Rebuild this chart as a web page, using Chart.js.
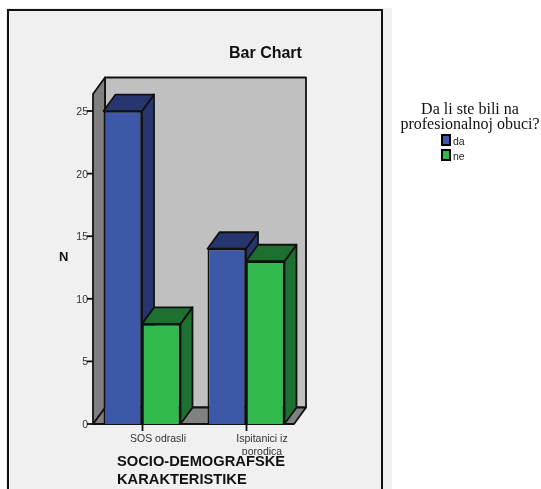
<!DOCTYPE html>
<html>
<head>
<meta charset="utf-8">
<script src="https://cdn.jsdelivr.net/npm/chart.js@4/dist/chart.umd.min.js"></script>
<style>
  html, body { margin: 0; padding: 0; background: #fff; overflow: hidden; }
  #page { position: relative; width: 541px; height: 489px; overflow: hidden; }
  #panel { position: absolute; left: 6px; top: 8px; width: 386px; height: 481px; background: #f0f0f0; }
  #frame { position: absolute; left: 7px; top: 9px; width: 372px; height: 500px; border: 2px solid #111; }
  canvas { position: absolute; left: 0; top: 0; }
  .txt { position: absolute; font-family: "Liberation Sans", Arial, sans-serif; color: #111; white-space: nowrap; }
  #chartTitle { left: 229px; top: 44px; font-size: 16px; font-weight: bold; }
  #yTitle { left: 59px; top: 249px; font-size: 13px; font-weight: bold; }
  #xTitle { left: 117px; top: 453px; font-size: 14.7px; line-height: 17.5px; font-weight: bold;
    background: linear-gradient(transparent 2px, #f0f0f0 2px); padding-right: 4px; }
  #legend { position: absolute; left: 395px; top: 102px; width: 150px; text-align: center;
    font-family: "Liberation Serif", "Times New Roman", serif; font-size: 16px; line-height: 14.5px; color: #111; }
  .key { position: absolute; font-family: "Liberation Sans", Arial, sans-serif; font-size: 10.5px; color: #222; }
  .swatch { position: absolute; width: 6px; height: 8px; border: 2px solid #000; }
</style>
</head>
<body>
<div id="page">
  <div id="panel"></div>
  <div id="frame"></div>
  <canvas id="chart" width="541" height="489"></canvas>
  <div class="txt" id="chartTitle">Bar Chart</div>
  <div class="txt" id="yTitle">N</div>
  <div class="txt" id="xTitle">SOCIO-DEMOGRAFSKE<br>KARAKTERISTIKE</div>
  <div id="legend"></div>
</div>
<script>
// values
const categories = [["SOS odrasli"], ["Ispitanici iz", "porodica"]];
const seriesNames = ["da", "ne"];
const daValues = [25, 14];
const neValues = [8, 13];
const yTicks = [0, 5, 10, 15, 20, 25];
const legendTitle = ["Da li ste bili na", "profesionalnoj obuci?"];

const frontColors = ["#3e58a8", "#31b94e"];
const sideColors = ["#27366e", "#1d7030"];
const depthX = 12;
const depthY = 16.5;
const wallLeft = 93;
const wallRight = 294;

function poly(ctx, pts, fill) {
    ctx.beginPath();
    pts.forEach((p, i) => i ? ctx.lineTo(p[0], p[1]) : ctx.moveTo(p[0], p[1]));
    ctx.closePath();
    ctx.fillStyle = fill;
    ctx.fill();
    ctx.stroke();
}

// the 3D box (walls, floor) and the side + top of each bar
const boxPlugin = {
    id: 'box3d',
    beforeDatasetsDraw(chart) {
        const ctx = chart.ctx;
        const top = chart.chartArea.top;
        const bottom = chart.chartArea.bottom;
        ctx.save();
        ctx.strokeStyle = '#111';
        ctx.lineWidth = 1.8;
        ctx.lineJoin = 'round';

        poly(ctx, [[wallLeft + depthX, top - depthY], [wallRight + depthX, top - depthY],
                   [wallRight + depthX, bottom - depthY], [wallLeft + depthX, bottom - depthY]], '#c0c0c0');
        poly(ctx, [[wallLeft, bottom], [wallRight, bottom],
                   [wallRight + depthX, bottom - depthY], [wallLeft + depthX, bottom - depthY]], '#808080');
        poly(ctx, [[wallLeft, top], [wallLeft + depthX, top - depthY],
                   [wallLeft + depthX, bottom - depthY], [wallLeft, bottom]], '#808080');

        // y axis ticks, taken from the scale
        const yScale = chart.scales.y;
        yTicks.forEach(v => {
            const y = yScale.getPixelForValue(v);
            ctx.beginPath();
            ctx.moveTo(wallLeft - 6, y);
            ctx.lineTo(wallLeft, y);
            ctx.stroke();
        });

        // for each category: first series then second, so the green top covers the blue side
        categories.forEach((c, i) => {
            chart.data.datasets.forEach((ds, d) => {
                const bar = chart.getDatasetMeta(d).data[i];
                const l = bar.x - bar.width / 2;
                const r = bar.x + bar.width / 2;
                const t = bar.y;
                const b = bar.base;
                poly(ctx, [[r, t], [r + depthX, t - depthY], [r + depthX, b - depthY], [r, b]], sideColors[d]);
                poly(ctx, [[l, t], [l + depthX, t - depthY], [r + depthX, t - depthY], [r, t]], sideColors[d]);
            });
        });
        ctx.restore();
    }
};

new Chart(document.getElementById('chart').getContext('2d'), {
    type: 'bar',
    plugins: [boxPlugin],
    data: {
        labels: categories,
        datasets: [
            { label: seriesNames[0], data: daValues, backgroundColor: frontColors[0], borderColor: '#111', borderWidth: 1.8 },
            { label: seriesNames[1], data: neValues, backgroundColor: frontColors[1], borderColor: '#111', borderWidth: 1.8 }
        ]
    },
    options: {
        responsive: false,
        animation: false,
        events: [],
        // puts the chart area so that 0 falls on y=424, 25 on y=111
        layout: { padding: { left: 60, right: 243, top: 94, bottom: 0 } },
        datasets: { bar: { barPercentage: 1, categoryPercentage: 0.74 } },
        plugins: { legend: { display: false }, title: { display: false }, tooltip: { enabled: false } },
        scales: {
            x: {
                afterFit(scale) { scale.height = 65; },
                border: { display: false },
                grid: { drawOnChartArea: false, offset: false, tickLength: 7, tickColor: '#111', tickWidth: 1.8 },
                ticks: { color: '#333', font: { family: '"Liberation Sans", Arial, sans-serif', size: 10.5 }, padding: 2, maxRotation: 0, labelOffset: 16 }
            },
            y: {
                afterFit(scale) { scale.width = 30; },
                min: 0,
                max: 26.36,
                border: { display: false },
                grid: { display: false, drawTicks: false },
                afterBuildTicks(scale) { scale.ticks = yTicks.map(v => ({ value: v })); },
                ticks: { color: '#333', font: { family: '"Liberation Sans", Arial, sans-serif', size: 10.5 }, padding: 2, labelOffset: 1 }
            }
        }
    }
});

// legend on the right
const legend = document.getElementById('legend');
legend.innerHTML = legendTitle.join('<br>');
const page = document.getElementById('page');
seriesNames.forEach((name, i) => {
    const sw = document.createElement('div');
    sw.className = 'swatch';
    sw.style.left = '441px';
    sw.style.top = (134 + i * 15) + 'px';
    sw.style.background = frontColors[i];
    page.appendChild(sw);
    const key = document.createElement('div');
    key.className = 'key';
    key.textContent = name;
    key.style.left = '453px';
    key.style.top = (135 + i * 15) + 'px';
    page.appendChild(key);
});
</script>
</body>
</html>
